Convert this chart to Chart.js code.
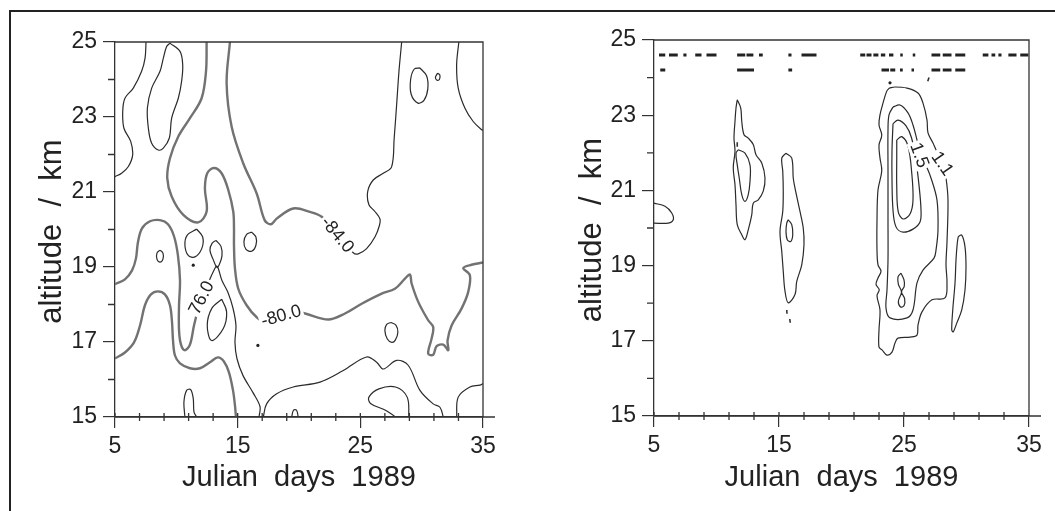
<!DOCTYPE html>
<html>
<head>
<meta charset="utf-8">
<script src="https://cdn.jsdelivr.net/npm/chart.js@4.4.1/dist/chart.umd.min.js"></script>
<style>
html, body { margin: 0; padding: 0; background: #fff; }
#wrap { position: relative; width: 1055px; height: 511px; overflow: hidden; }
#frame { position: absolute; left: 9px; top: 10px; right: -5px; bottom: -5px; border-left: 2px solid #222; border-top: 2px solid #222; }
#left { position: absolute; left: 0; top: 0; }
#right { position: absolute; left: 527px; top: 0; }
</style>
</head>
<body>
<div id="wrap">
  <div id="frame"></div>
  <canvas id="left" width="527" height="511"></canvas>
  <canvas id="right" width="528" height="511"></canvas>
</div>
<script>
// axes
const xTicks = [5, 15, 25, 35];
const xMinor = [7, 9, 11, 13, 17, 19, 21, 23, 27, 29, 31, 33];
const yTicks = [15, 17, 19, 21, 23, 25];
const yMinor = [16, 18, 20, 22, 24];

// left panel: temperature contours (day, km)
const leftA = [[7.53,25.0],[7.45,24.57],[7.17,24.22],[6.49,23.77],[5.81,23.50],[5.63,23.15],[5.73,22.70],[6.28,22.35],[6.44,21.99],[6.09,21.68],[5.54,21.50],[5.0,21.41]];
const leftB = [[9.48,24.97],[10.30,24.75],[10.52,24.39],[10.43,23.95],[10.16,23.50],[9.62,22.97],[9.43,22.44],[8.94,22.17],[8.53,22.12],[7.99,22.30],[7.72,22.70],[7.64,23.24],[7.99,23.77],[8.67,24.22],[8.94,24.57],[9.21,24.88],[9.48,24.97]];
const leftC80 = [[12.47,25.0],[12.42,24.22],[12.06,23.50],[11.11,22.97],[10.16,22.48],[9.48,21.90],[9.26,21.37],[9.62,20.88],[10.57,20.39],[11.79,20.19],[12.47,20.48],[12.33,21.10],[12.52,21.50],[13.07,21.64],[13.69,21.50],[14.23,21.06],[14.64,20.48],[14.70,20.03],[14.70,19.58],[14.78,18.96],[15.05,18.42],[15.73,17.98],[16.55,17.66],[17.3,17.55],[18.3,17.68],[19.0,17.80],[19.67,17.82],[20.49,17.76],[22.39,17.60],[23.75,17.76],[25.11,18.02],[26.74,18.29],[27.82,18.42],[28.64,18.69],[29.04,18.80],[29.18,18.56],[29.72,18.07],[30.53,17.58],[30.94,17.40],[30.81,17.09],[30.53,16.69],[30.94,16.66],[31.22,16.89],[31.76,16.93],[32.17,16.78],[32.11,17.04],[32.44,17.44],[33.25,17.89],[33.79,18.33],[33.93,18.78],[33.39,18.97],[34.07,19.06],[35.0,19.12]];
const left84a = [[14.37,25.0],[14.10,23.90],[14.51,22.74],[15.46,21.76],[16.55,20.96],[17.2,20.25],[17.7,20.14],[18.18,20.29],[19.53,20.56],[20.89,20.47],[21.85,20.34],[23.17,19.87]];
const left84b = [[23.17,19.87],[24.42,19.38],[24.83,19.35],[25.51,19.49],[26.19,19.80],[26.55,20.10],[26.60,20.28],[26.19,20.48],[25.70,20.66],[25.60,21.01],[26.05,21.32],[26.87,21.50],[27.55,21.67],[27.76,22.44],[27.96,23.33],[28.15,24.22],[28.37,25.0]];
const left76a = [[5.00,18.54],[5.81,18.67],[6.39,18.91],[6.71,19.23],[6.87,19.66],[7.20,20.03],[7.85,20.22],[8.67,20.25],[9.32,20.14],[9.81,19.82],[10.13,19.31],[10.30,18.64],[10.22,17.98],[10.22,17.31],[10.38,16.93],[10.70,16.78],[11.11,16.93],[11.44,17.44],[12.01,18.19]];
const left76b = [[12.01,18.19],[12.58,18.56],[12.99,18.86],[13.31,19.02],[13.72,18.64],[14.21,18.32],[14.62,17.90],[14.86,17.44],[14.78,16.99],[14.94,16.56],[15.43,16.11],[16.25,15.65],[16.82,15.28],[16.74,15.0]];
const leftLowArch = [[5.00,16.56],[5.81,16.72],[6.55,16.99],[7.04,17.44],[7.44,17.98],[7.93,18.27],[8.50,18.35],[9.07,18.27],[9.48,17.98],[9.65,17.52],[9.73,17.04],[9.89,16.64],[10.30,16.43],[11.11,16.30],[11.93,16.30],[12.74,16.46],[13.39,16.59],[13.88,16.48],[14.29,16.19],[14.62,15.71],[14.78,15.31],[14.86,15.00]];
const leftE = [[13.70,18.14],[14.10,17.80],[13.83,17.36],[12.88,17.04],[12.52,17.44],[12.88,17.89],[13.70,18.14]];
const leftP1 = [[11.66,20.01],[12.15,19.80],[12.07,19.49],[11.52,19.27],[10.97,19.31],[10.70,19.58],[10.89,19.85],[11.66,20.01]];
const leftP2 = [[13.23,19.71],[13.64,19.55],[13.72,19.29],[13.48,19.05],[13.31,18.99],[12.99,19.21],[12.74,19.45],[12.91,19.63],[13.23,19.71]];
const leftP3 = [[16.14,19.93],[16.49,19.80],[16.49,19.58],[16.14,19.42],[15.68,19.47],[15.51,19.67],[15.73,19.87],[16.14,19.93]];
const leftS1 = [[8.67,19.45],[8.91,19.37],[8.91,19.21],[8.67,19.13],[8.42,19.21],[8.42,19.37],[8.67,19.45]];
const leftU = [[10.70,15.0],[10.62,15.40],[10.84,15.71],[11.17,15.73],[11.38,15.49],[11.44,15.13],[11.66,15.0]];
const leftLow = [[17.09,15.0],[17.36,15.35],[18.18,15.62],[19.53,15.80],[21.71,15.93],[23.61,16.24],[25.51,16.60],[26.33,16.46],[26.87,16.28],[27.96,16.51],[28.90,16.38],[29.86,15.71],[30.94,15.35],[31.49,15.26],[31.76,15.0]];
const leftCap = [[27.87,15.0],[27.05,15.18],[25.83,15.36],[25.70,15.53],[26.51,15.75],[27.87,15.80],[28.82,15.53],[28.96,15.0]];
const leftCorner = [[32.85,15.0],[32.98,15.53],[33.93,15.80],[34.75,15.85],[35.0,15.89]];
const leftBump = [[19.40,15.0],[19.55,15.18],[19.80,15.18],[19.94,15.0]];
const leftOval = [[27.49,17.52],[27.9,17.45],[28.06,17.26],[27.85,17.05],[27.57,16.99],[27.2,17.08],[27.0,17.31],[27.15,17.47],[27.49,17.52]];
const leftOval2 = [[29.85,24.31],[30.4,24.1],[30.5,23.75],[30.2,23.45],[29.7,23.37],[29.15,23.6],[29.1,24.0],[29.4,24.28],[29.85,24.31]];
const leftTiny = [[31.30,24.17],[31.48,24.12],[31.45,24.0],[31.25,23.98],[31.12,24.06],[31.30,24.17]];
const leftRight = [[33.03,25.0],[32.85,24.39],[32.98,23.77],[33.52,23.24],[34.2,22.88],[34.89,22.66],[35.0,22.65]];
const leftDots = [[16.65,16.91],[11.38,19.05]];

// right panel contours (day, km)
const rightR1 = [[5.0,20.66],[5.88,20.58],[6.42,20.40],[6.54,20.22],[6.14,20.13],[5.0,20.13]];
const rightR2 = [[11.66,23.41],[11.94,23.19],[12.02,22.84],[12.20,22.48],[12.54,22.39],[12.94,22.22],[13.16,21.95],[13.62,21.73],[13.88,21.33],[13.74,20.98],[13.34,20.75],[12.94,20.66],[12.82,20.35],[12.54,19.95],[12.28,19.69],[12.02,19.82],[11.66,20.09],[11.56,20.62],[11.48,21.15],[11.34,21.60],[11.48,22.04],[11.40,22.39],[11.48,22.84],[11.56,23.19],[11.66,23.41]];
const rightR3 = [[11.74,22.08],[12.28,21.99],[12.68,21.68],[12.68,21.24],[12.54,20.89],[12.28,20.71],[12.02,20.89],[11.82,21.33],[11.66,21.68],[11.56,21.99],[11.74,22.08]];
const rightR4 = [[15.56,21.99],[16.02,21.86],[16.14,21.33],[16.28,21.06],[16.68,20.44],[16.94,20.00],[17.00,19.56],[16.82,19.02],[16.42,18.58],[16.28,18.23],[15.74,18.01],[15.48,18.32],[15.34,18.85],[15.22,19.38],[15.08,19.91],[15.30,20.44],[15.34,20.98],[15.30,21.51],[15.22,21.86],[15.56,21.99]];
const rightR5 = [[15.74,20.22],[16.02,20.09],[16.10,19.82],[15.94,19.64],[15.66,19.69],[15.56,19.91],[15.62,20.13],[15.74,20.22]];
const rightO1 = [[23.82,23.72],[23.62,23.64],[23.32,23.32],[23.08,23.01],[23.00,22.74],[23.22,22.47],[23.00,22.21],[23.08,21.86],[23.22,21.52],[22.92,21.01],[22.84,20.21],[22.84,19.41],[22.92,19.02],[23.16,18.85],[22.92,18.67],[22.76,18.50],[23.02,18.36],[22.84,18.20],[23.08,17.82],[23.00,17.29],[23.00,16.83],[23.24,16.76],[23.64,16.62],[24.04,16.70],[24.28,16.94],[24.52,17.07],[25.48,17.10],[26.04,17.15],[26.12,17.42],[26.44,17.77],[27.24,18.09],[28.28,18.14],[28.44,18.54],[28.36,19.02],[28.44,19.63],[28.52,20.74],[28.36,21.33],[28.1,21.72],[27.56,22.08],[27.32,22.26],[26.92,22.53],[26.84,22.87],[26.52,23.32],[26.12,23.59],[25.24,23.72],[24.28,23.75],[23.82,23.72]];
const rightO2 = [[24.12,23.22],[24.68,23.27],[25.32,23.06],[25.72,22.74],[26.04,22.34],[26.20,22.13],[26.44,21.93],[26.68,21.73],[27.16,21.33],[27.64,20.74],[27.72,19.95],[27.56,19.41],[27.40,19.20],[26.52,18.88],[26.04,18.54],[25.72,17.82],[25.24,17.61],[23.88,17.61],[23.56,17.87],[23.64,18.35],[23.72,19.15],[23.72,20.21],[23.72,21.54],[23.72,22.61],[23.80,23.01],[24.12,23.22]];
const rightO3 = [[24.12,22.77],[24.52,22.87],[25.15,22.72],[25.6,22.4],[25.95,21.8],[26.2,21.14],[26.36,20.48],[26.28,20.16],[25.72,19.97],[24.92,19.89],[24.36,20.03],[24.12,20.48],[24.04,21.28],[24.04,22.07],[24.12,22.77]];
const rightI4 = [[24.42,22.34],[24.82,22.43],[25.32,22.18],[25.62,21.46],[25.72,20.74],[25.48,20.37],[24.94,20.24],[24.54,20.43],[24.42,21.10],[24.42,21.90],[24.42,22.34]];
const rightEight = [[24.76,18.80],[25.0,18.62],[25.02,18.45],[24.8,18.30],[25.05,18.12],[25.0,17.93],[24.72,17.90],[24.55,18.05],[24.8,18.30],[24.55,18.50],[24.52,18.70],[24.76,18.80]];
const rightR7 = [[29.34,19.77],[29.62,19.81],[29.88,19.50],[29.96,18.97],[29.88,18.35],[29.62,17.82],[29.22,17.47],[28.94,17.24],[28.82,17.29],[28.90,17.82],[29.08,18.53],[29.16,19.15],[29.26,19.59],[29.34,19.77]];
const rightMarks = [[[15.62,17.82],[15.64,17.72]],[[15.86,17.58],[15.9,17.48]],[[26.9,23.9],[27.0,24.0]],[[11.66,22.28],[11.66,22.16]]];
const rightDots = [[23.88,23.86]];

// observation bars along the top of the right panel (start day, end day)
const rowLevels = [24.6, 24.2];
const rightRow1 = [[5.4,5.9],[6.2,6.9],[7.35,7.6],[8.3,8.8],[9.2,10.0],[11.65,12.3],[12.4,12.95],[13.4,13.7],[15.75,16.0],[16.8,18.0],[21.5,21.9],[22.0,22.4],[22.55,22.95],[23.15,23.5],[23.8,24.15],[24.7,24.9],[25.7,25.9],[27.2,27.9],[28.1,28.8],[29.1,29.9],[31.3,31.75],[32.0,32.3],[32.55,32.8],[33.35,34.0],[34.3,34.95]];
const rightRow2 = [[5.5,5.9],[11.65,13.0],[15.75,16.05],[23.2,23.8],[23.9,24.3],[24.68,24.9],[25.6,25.8],[27.2,27.9],[28.1,28.8],[29.1,29.9]];

// contour labels
const leftNotes = [
  { text: '-84.0', x: 23.17, y: 19.87, angle: 50 },
  { text: '-80.0', x: 18.53, y: 17.71, angle: -16 },
  { text: '76.0', x: 12.01, y: 18.19, angle: -63 }
];
const rightNotes = [
  { text: '1.5', x: 26.28, y: 21.94, angle: 70 },
  { text: '1.1', x: 28.1, y: 21.72, angle: 55 }
];

const FONT = '"Liberation Sans", Arial, Helvetica, sans-serif';
const thin = { borderColor: '#2b2b2b', borderWidth: 1.2 };
const thick = { borderColor: '#727272', borderWidth: 2.4 };

function line(pts, style) {
  return { data: pts.map(([x, y]) => ({ x, y })), showLine: true, pointRadius: 0, tension: 0.35, fill: false, ...style };
}
function bars(list, level) {
  const out = [];
  list.forEach(([a, b]) => { out.push({ x: a, y: level }, { x: b, y: level }, { x: b, y: null }); });
  return { data: out, showLine: true, pointRadius: 0, tension: 0, borderColor: '#222', borderWidth: 3, borderCapStyle: 'butt' };
}
function marks(list) {
  const out = [];
  list.forEach(([p, q]) => { out.push({ x: p[0], y: p[1] }, { x: q[0], y: q[1] }, { x: q[0], y: null }); });
  return { data: out, showLine: true, pointRadius: 0, tension: 0, borderColor: '#333', borderWidth: 1.6 };
}
function dots(list) {
  return { data: list.map(([x, y]) => ({ x, y })), showLine: false, pointRadius: 1.6, pointBackgroundColor: '#222', pointBorderWidth: 0 };
}

const panelDeco = {
  id: 'panelDeco',
  afterDraw(chart, args, opts) {
    const { ctx, chartArea: a } = chart;
    const x = chart.scales.x, y = chart.scales.y;
    ctx.save();
    ctx.strokeStyle = '#333';
    ctx.lineWidth = 1.3;
    ctx.beginPath();
    ctx.moveTo(a.left, a.top); ctx.lineTo(a.right, a.top); ctx.lineTo(a.right, a.bottom);
    ctx.moveTo(a.left, a.bottom); ctx.lineTo(a.right + 12, a.bottom);
    xMinor.forEach(v => { const p = x.getPixelForValue(v); ctx.moveTo(p, a.bottom - 4); ctx.lineTo(p, a.bottom + 4); });
    xTicks.forEach(v => { const p = x.getPixelForValue(v); ctx.moveTo(p, a.bottom - 4); ctx.lineTo(p, a.bottom); });
    yMinor.forEach(v => { const p = y.getPixelForValue(v); ctx.moveTo(a.left - 7, p); ctx.lineTo(a.left, p); });
    ctx.stroke();

    // contour labels
    opts.notes.forEach(n => {
      const px = x.getPixelForValue(n.x), py = y.getPixelForValue(n.y);
      ctx.save();
      ctx.translate(px, py);
      ctx.rotate(n.angle * Math.PI / 180);
      ctx.font = '18px ' + FONT;
      const w = ctx.measureText(n.text).width;
      ctx.fillStyle = '#fff';
      ctx.fillRect(-w / 2 - 2, -9, w + 4, 18);
      ctx.fillStyle = '#222';
      ctx.textAlign = 'center';
      ctx.textBaseline = 'middle';
      ctx.fillText(n.text, 0, 1);
      ctx.restore();
    });

    // axis titles
    ctx.fillStyle = '#222';
    ctx.textAlign = 'center';
    ctx.textBaseline = 'alphabetic';
    ctx.font = '29px ' + FONT;
    ctx.fillText('Julian  days  1989', (a.left + a.right) / 2, 486);
    ctx.save();
    ctx.translate(opts.yTitleX, (a.top + a.bottom) / 2 + 2);
    ctx.rotate(-Math.PI / 2);
    ctx.font = '31px ' + FONT;
    ctx.fillText('altitude  /  km', 0, 0);
    ctx.restore();
    ctx.restore();
  }
};

function scales(yWidth, xHeight) {
  return {
    x: {
      type: 'linear', min: 5, max: 35,
      afterBuildTicks: s => { s.ticks = xTicks.map(v => ({ value: v })); },
      afterFit: s => { s.height = xHeight; },
      ticks: { font: { family: FONT, size: 23 }, color: '#222', padding: 5, maxRotation: 0, autoSkip: false },
      grid: { drawOnChartArea: false, drawTicks: true, tickLength: 11, color: '#333', lineWidth: 1.2 },
      border: { display: true, color: '#333', width: 1.3 }
    },
    y: {
      type: 'linear', min: 15, max: 25,
      afterBuildTicks: s => { s.ticks = yTicks.map(v => ({ value: v })); },
      afterFit: s => { s.width = yWidth; },
      ticks: { font: { family: FONT, size: 23 }, color: '#222', padding: 6, autoSkip: false },
      grid: { drawOnChartArea: false, drawTicks: true, tickLength: 12, color: '#333', lineWidth: 1.2 },
      border: { display: true, color: '#333', width: 1.3 }
    }
  };
}

function makeChart(id, datasets, notes, yWidth, xHeight, padding, yTitleX) {
  return new Chart(document.getElementById(id), {
    type: 'scatter',
    data: { datasets },
    options: {
      responsive: false,
      animation: false,
      events: [],
      layout: { padding },
      plugins: { legend: { display: false }, tooltip: { enabled: false }, panelDeco: { notes, yTitleX } },
      scales: scales(yWidth, xHeight)
    },
    plugins: [panelDeco]
  });
}

makeChart('left', [
  line(leftA, thin), line(leftB, thin),
  line(leftC80, thick), line(left84a, thick), line(left84b, thin),
  line(left76a, thick), line(left76b, thin), line(leftLowArch, thick),
  line(leftE, thin), line(leftP1, thin), line(leftP2, thin), line(leftP3, thin), line(leftS1, thin),
  line(leftU, thin), line(leftLow, thin), line(leftCap, thin), line(leftCorner, thin), line(leftBump, thin),
  line(leftOval, thin), line(leftOval2, thin), line(leftTiny, thin), line(leftRight, thin),
  dots(leftDots)
], leftNotes, 115, 94, { left: 0, top: 42, right: 44, bottom: 0 }, 61);

makeChart('right', [
  bars(rightRow1, rowLevels[0]), bars(rightRow2, rowLevels[1]),
  line(rightR1, thin), line(rightR2, thin), line(rightR3, thin), line(rightR4, thin), line(rightR5, thin),
  line(rightO1, thin), line(rightO2, thin), line(rightO3, thin), line(rightI4, thin),
  line(rightEight, thin), line(rightR7, thin),
  marks(rightMarks), dots(rightDots)
], rightNotes, 127, 95, { left: 0, top: 40, right: 26, bottom: 0 }, 74);
</script>
</body>
</html>
